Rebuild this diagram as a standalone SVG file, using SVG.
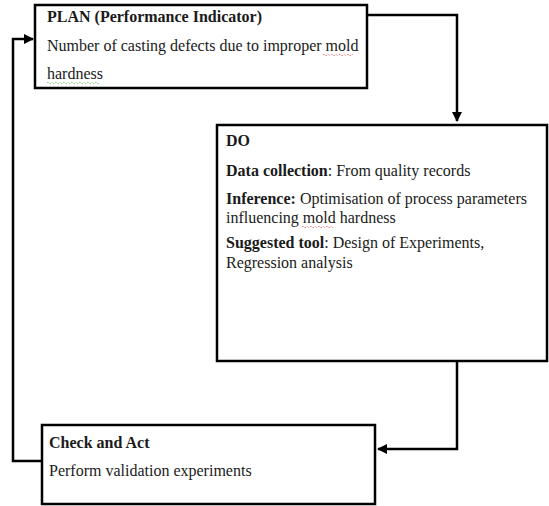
<svg xmlns="http://www.w3.org/2000/svg" width="549" height="506" viewBox="0 0 549 506">
<defs>
<style>
.box{fill:#fff;stroke:#000;stroke-width:2.5}
.t{font-family:"Liberation Serif","Times New Roman",serif;font-size:16px;fill:#1a1a1a}
.b{font-weight:bold}
.c{fill:none;stroke:#000;stroke-width:2.5}
.sq{fill:none;stroke-width:0.8;stroke-dasharray:1 1}
</style>
<marker id="ah" viewBox="0 0 10 10" refX="9" refY="5" markerWidth="4" markerHeight="4" orient="auto" markerUnits="strokeWidth">
<path d="M0,0 L10,5 L0,10 z" fill="#000"/>
</marker>
</defs>
<rect width="549" height="506" fill="#fff"/>
<g id="connectors">
<path class="c" d="M367,15 H457 V121" marker-end="url(#ah)"/>
<path class="c" d="M457,361 V449 H378" marker-end="url(#ah)"/>
<path class="c" d="M42,461 H13 V39 H33" marker-end="url(#ah)"/>
</g>
<g id="plan">
<rect class="box" x="35" y="5" width="332" height="83"/>
<text class="t b" x="47" y="22">PLAN (Performance Indicator)</text>
<text class="t" x="47" y="51">Number of casting defects due to improper mold</text>
<text class="t" x="47" y="79">hardness</text>
<path class="sq" stroke="#d33" d="M323,55 q1,-1.5 2,0 t2,0 t2,0 t2,0 t2,0 t2,0 t2,0 t2,0 t2,0 t2,0 t2,0 t2,0 t2,0 t2,0 t2,0"/>
<path class="sq" stroke="#3a3" d="M47,83 q1,-1.5 2,0 t2,0 t2,0 t2,0 t2,0 t2,0 t2,0 t2,0 t2,0 t2,0 t2,0 t2,0 t2,0 t2,0 t2,0 t2,0 t2,0 t2,0 t2,0 t2,0 t2,0 t2,0 t2,0 t2,0 t2,0 t2,0"/>
</g>
<g id="do">
<rect class="box" x="217" y="125" width="330" height="236"/>
<text class="t b" x="226" y="146">DO</text>
<text class="t" x="226" y="176"><tspan class="b">Data collection</tspan>: From quality records</text>
<text class="t" x="226" y="204"><tspan class="b">Inference:</tspan> Optimisation of process parameters</text>
<text class="t" x="226" y="223">influencing mold hardness</text>
<text class="t" x="226" y="248"><tspan class="b">Suggested tool</tspan>: Design of Experiments,</text>
<text class="t" x="226" y="268">Regression analysis</text>
<path class="sq" stroke="#d33" d="M302,227 q1,-1.5 2,0 t2,0 t2,0 t2,0 t2,0 t2,0 t2,0 t2,0 t2,0 t2,0 t2,0 t2,0 t2,0 t2,0 t2,0 t2,0"/>
</g>
<g id="check">
<rect class="box" x="42" y="425" width="333" height="79"/>
<text class="t b" x="49" y="448">Check and Act</text>
<text class="t" x="49" y="476">Perform validation experiments</text>
</g>
</svg>
